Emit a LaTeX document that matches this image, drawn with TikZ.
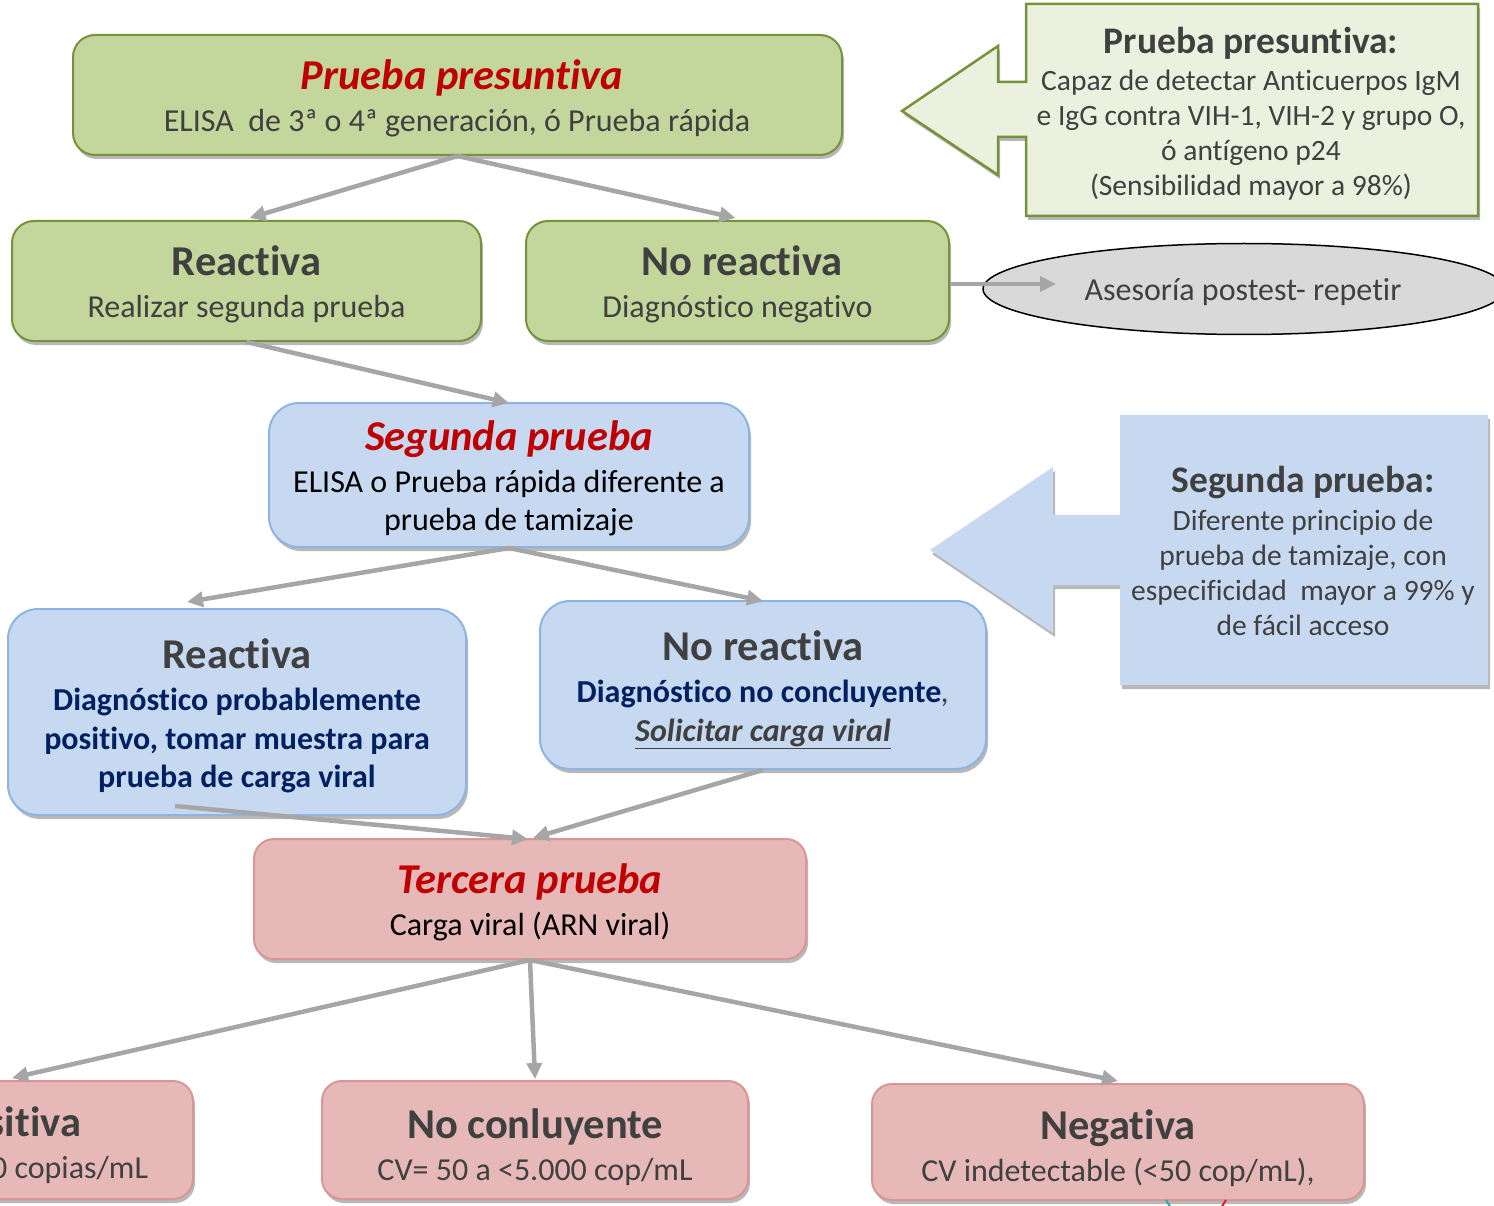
\documentclass[tikz,border=0pt]{standalone}
\usepackage{fontspec}
\setmainfont{Carlito}[Ligatures=NoCommon]
\usetikzlibrary{arrows.meta,shadows,calc,shapes.geometric}

\definecolor{gfill}{HTML}{C3D69B}
\definecolor{gline}{HTML}{76923C}
\definecolor{gpale}{HTML}{EBF1DE}
\definecolor{bfill}{HTML}{C6D9F1}
\definecolor{bline}{HTML}{8EB4E3}
\definecolor{rfill}{HTML}{E6B9B8}
\definecolor{rline}{HTML}{D99694}
\definecolor{tgray}{HTML}{404040}
\definecolor{tred}{HTML}{C00000}
\definecolor{tnavy}{HTML}{002060}
\definecolor{conngray}{HTML}{A6A6A6}
\definecolor{ovalgray}{HTML}{D9D9D9}

\begin{document}
\begin{tikzpicture}[x=1pt,y=-1pt,
  shade/.style={drop shadow={shadow xshift=2pt,shadow yshift=-4pt,opacity=0.28,fill=black}},
  box/.style={rectangle,inner sep=0pt,line width=2pt,shade},
  gbox/.style={box,fill=gfill,draw=gline,rounded corners=22pt},
  bbox/.style={box,fill=bfill,draw=bline,rounded corners=30pt},
  rbox/.style={box,fill=rfill,draw=rline,rounded corners=20pt},
  ttl/.style={anchor=mid,inner sep=0pt,yshift=-10pt,text=tgray,font=\fontsize{42.5}{42.5}\selectfont\bfseries},
  rttl/.style={ttl,text=tred,font=\fontsize{42.5}{42.5}\selectfont\bfseries\itshape},
  sub/.style={anchor=mid,inner sep=0pt,yshift=-8pt,text=tgray,font=\fontsize{32}{32}\selectfont},
  blk/.style={sub,text=black},
  navy/.style={sub,text=tnavy,font=\fontsize{32}{32}\selectfont\bfseries},
  cttl/.style={anchor=mid,inner sep=0pt,yshift=-9pt,text=tgray,font=\fontsize{37.5}{37.5}\selectfont\bfseries},
  ctxt/.style={anchor=mid,inner sep=0pt,yshift=-7pt,text=tgray,font=\fontsize{29.5}{29.5}\selectfont},
  conn/.style={draw=conngray,line width=4.5pt,-{Triangle[length=16pt,width=15pt]}}
]
\useasboundingbox (0,0) rectangle (1494,1206);

% ---- side notes (arrow-shaped callouts)
\path[fill=gpale,draw=gline,line width=2.5pt,shade]
  (1026,4) -- (1478,4) -- (1478,216) -- (1026,216) -- (1026,137) -- (998,137)
  -- (998,175) -- (902,111) -- (998,46) -- (998,82) -- (1026,82) -- cycle;
\node[cttl] (c1t) at (1251,42) {Prueba presuntiva:};
\node[ctxt] (c1a) at (1251,81) {Capaz de detectar Anticuerpos IgM};
\node[ctxt] (c1b) at (1251,116) {e IgG contra VIH-1, VIH-2 y grupo O,};
\node[ctxt] (c1c) at (1251,151) {ó antígeno p24};
\node[ctxt] (c1d) at (1251,186) {(Sensibilidad mayor a 98\%)};

\path[fill=bfill,shade]
  (1120,415) -- (1488,415) -- (1488,685) -- (1120,685) -- (1120,585) -- (1053,585)
  -- (1053,633) -- (930,550) -- (1053,467) -- (1053,515) -- (1120,515) -- cycle;
\node[cttl] (c2t) at (1303,481) {Segunda prueba:};
\node[ctxt] (c2a) at (1303,521) {Diferente principio de};
\node[ctxt] (c2b) at (1303,556) {prueba de tamizaje, con};
\node[ctxt] (c2c) at (1303,591) {especificidad\ \ mayor a 99\% y};
\node[ctxt] (c2d) at (1303,626) {de fácil acceso};

% ---- counselling oval
\node[ellipse,draw=black,line width=1.5pt,fill=ovalgray,minimum width=522pt,minimum height=91pt,inner sep=0pt]
  (oval) at (1244,289) {};
\node[ctxt,font=\fontsize{32}{32}\selectfont,yshift=-1pt] (ovalt) at (1243,290) {Asesoría postest- repetir};

% ---- first test
\node[gbox,minimum width=769pt,minimum height=120pt] (pp) at (457.5,95) {};
\node[rttl] (ppt) at (462,77) {Prueba presuntiva};
\node[sub] (pps) at (457,121) {ELISA\ \ de 3ª o 4ª generación, ó Prueba rápida};

\node[gbox,minimum width=469pt,minimum height=120pt] (rg) at (246.5,281) {};
\node[ttl] (rgt) at (246.5,263) {Reactiva};
\node[sub] (rgs) at (246.5,307) {Realizar segunda prueba};

\node[gbox,minimum width=423pt,minimum height=120pt] (ng) at (737.5,281) {};
\node[ttl] (ngt) at (742,263) {No reactiva};
\node[sub] (ngs) at (737.5,307) {Diagnóstico negativo};

% ---- second test
\node[bbox,minimum width=480pt,minimum height=144pt] (sp) at (509,475) {};
\node[rttl] (spt) at (509,438) {Segunda prueba};
\node[blk] (spa) at (509,482) {ELISA o Prueba rápida diferente a};
\node[blk] (spb) at (509,520) {prueba de tamizaje};

\node[bbox,minimum width=458pt,minimum height=206pt] (rb) at (237,712) {};
\node[ttl] (rbt) at (237,656) {Reactiva};
\node[navy] (rba) at (237,700) {Diagnóstico probablemente};
\node[navy] (rbb) at (237,739) {positivo, tomar muestra para};
\node[navy] (rbc) at (237,777) {prueba de carga viral};

\node[bbox,minimum width=446pt,minimum height=168pt] (nb) at (763,685) {};
\node[ttl] (nbt) at (763,648) {No reactiva};
\node[navy] (nba) at (763,692) {Diagnóstico no concluyente{\color{tgray}\mdseries\itshape,}};
\node[navy,text=tgray] (nbb) at (763,731) {\itshape\underline{Solicitar carga viral}};

% ---- third test
\node[rbox,minimum width=552pt,minimum height=120pt] (tp) at (530,899) {};
\node[rttl] (tpt) at (530,881) {Tercera prueba};
\node[blk] (tps) at (530,925) {Carga viral (ARN viral)};

\node[rbox,minimum width=362pt,minimum height=118pt] (pos) at (12,1140) {};
\node[ttl] (post) at (12,1124) {Positiva};
\node[sub] (poss) at (12,1168) {CV >5.000 copias/mL};

\node[rbox,minimum width=426pt,minimum height=118pt] (nc) at (535,1140) {};
\node[ttl] (nct) at (535,1126) {No conluyente};
\node[sub] (ncs) at (535,1170) {CV= 50 a <5.000 cop/mL};

\node[rbox,minimum width=492pt,minimum height=116pt] (neg) at (1118,1142) {};
\node[ttl] (negt) at (1118,1127) {Negativa};
\node[sub] (negs) at (1118,1171) {CV indetectable (<50 cop/mL),};

% ---- connectors
\coordinate (ovalin) at (1056,284);
\draw[conn] (ng.east |- ovalin) -- (ovalin);
\draw[conn] (pp.south) -- ($(rg.north)+(3,-2)$);
\draw[conn] (pp.south) -- ($(ng.north)+(-2,-2)$);
\draw[conn] (rg.south) -- ($(sp.north)+(0,1)$);
\draw[conn] (sp.south) -- ($(rb.north)+(-50,-6)$);
\draw[conn] (sp.south) -- ($(nb.north)+(0,1)$);
\draw[conn] ($(rb.south)+(-62,-10)$) -- ($(tp.north)+(-2,1)$);
\draw[conn] (nb.south) -- ($(tp.north)+(3,0)$);
\draw[conn] (tp.south) -- ($(pos.north)+(0,-2)$);
\draw[conn] (tp.south) -- ($(nc.north)+(0,-1)$);
\draw[conn] (tp.south) -- ($(neg.north)+(0,-2)$);

% ---- stubs of lines leaving the lower edge
\draw[draw={rgb,255:red,40;green,170;blue,170},line width=2pt] (1166,1200) -- (1171,1208);
\draw[draw={rgb,255:red,220;green,30;blue,50},line width=2pt] (1226,1200) -- (1221,1208);
\end{tikzpicture}
\end{document}
